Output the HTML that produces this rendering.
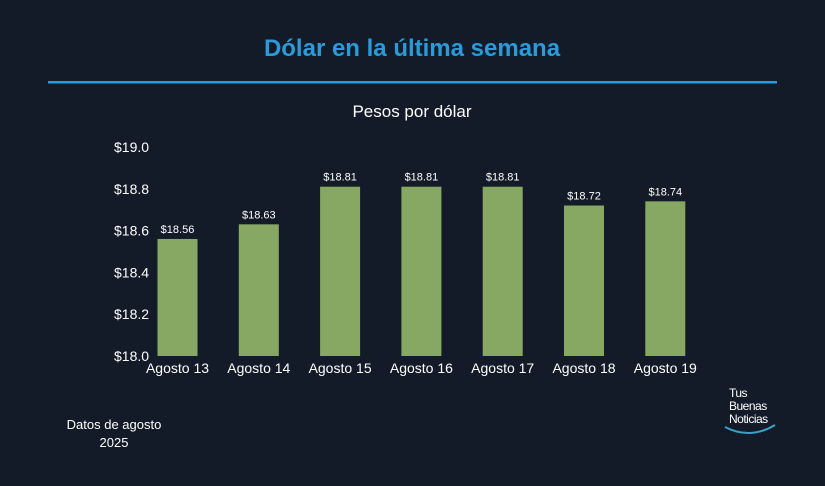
<!DOCTYPE html>
<html><head><meta charset="utf-8"><style>
html,body{margin:0;padding:0;background:#121b27;}
body{width:825px;height:481px;overflow:hidden;font-family:"Liberation Sans","DejaVu Sans",sans-serif;}
</style></head><body>
<svg width="825" height="481" xmlns="http://www.w3.org/2000/svg">
<rect width="825" height="481" fill="#121b27"/>
<text x="412" y="56" text-anchor="middle" font-size="24" font-weight="bold" fill="#2a9bd8">Dólar en la última semana</text>
<rect x="48" y="81" width="729" height="2.5" fill="#2a9bd8"/>
<text x="412" y="117" text-anchor="middle" font-size="17" fill="#ffffff">Pesos por dólar</text>
<g id="yaxis"></g>
<g id="bars"></g>
<g id="xaxis"></g>
<text x="114" y="429" text-anchor="middle" font-size="13" fill="#ffffff">Datos de agosto</text>
<text x="114" y="447" text-anchor="middle" font-size="13" fill="#ffffff">2025</text>
<g>
<text x="729" y="397" font-size="12" fill="#fff" letter-spacing="-0.5">Tus</text>
<text x="729" y="410" font-size="12" fill="#fff" letter-spacing="-0.5">Buenas</text>
<text x="729" y="423" font-size="12" fill="#fff" letter-spacing="-0.5">Noticias</text>
<path d="M725 427 Q750 440 775 425" stroke="#3aa0c8" stroke-width="2" fill="none"/>
</g>
</svg>
<script>
const categories=["Agosto 13","Agosto 14","Agosto 15","Agosto 16","Agosto 17","Agosto 18","Agosto 19"];
const values=[18.56,18.63,18.81,18.81,18.81,18.72,18.74];
const yTicks=[18.0,18.2,18.4,18.6,18.8,19.0];
const yMin=18.0,yMax=19.0,y0=356,y1=147;
const NS="http://www.w3.org/2000/svg";
function y(v){return y0-(v-yMin)/(yMax-yMin)*(y0-y1);}
function x(i){return 177.5+i*81.3;}
function mk(t,a,txt){const e=document.createElementNS(NS,t);for(const k in a)e.setAttribute(k,a[k]);if(txt!=null)e.textContent=txt;return e;}
const ya=document.getElementById('yaxis'),bg=document.getElementById('bars'),xa=document.getElementById('xaxis');
yTicks.forEach(t=>{const e=mk('text',{x:114,y:y(t)+5,'font-size':14,fill:'#fff'},'$'+t.toFixed(1));


ya.appendChild(e);});
categories.forEach((c,i)=>{const v=values[i];
const r=mk('rect',{x:x(i)-20,y:y(v),width:40,height:y0-y(v),fill:'#87a862'});


bg.appendChild(r);
const l=mk('text',{x:x(i),y:y(v)-6,'text-anchor':'middle','font-size':11,fill:'#fff'},'$'+v.toFixed(2));


bg.appendChild(l);
const t=mk('text',{x:x(i),y:373,'text-anchor':'middle','font-size':14,fill:'#fff'},c);


xa.appendChild(t);});
</script>
</body></html>
